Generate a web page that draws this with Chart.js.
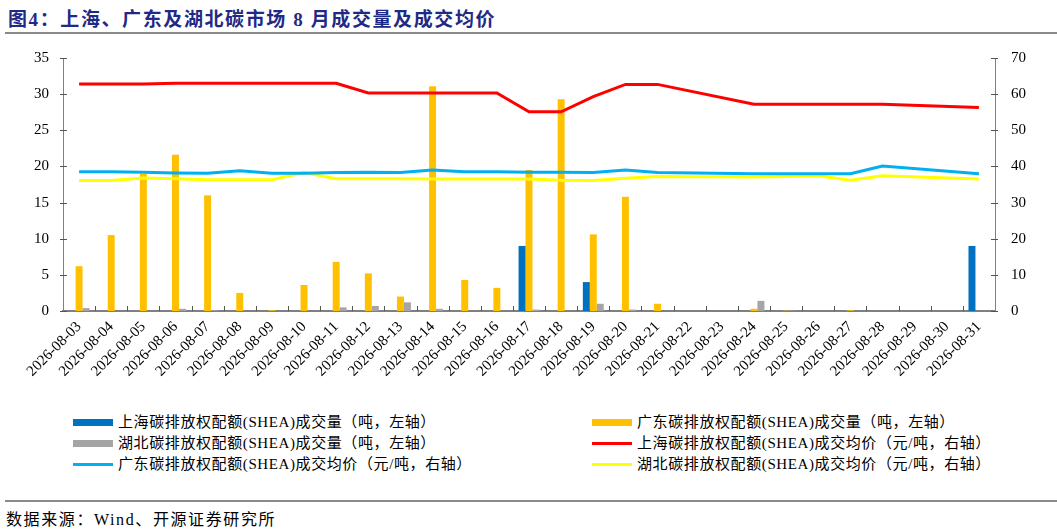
<!DOCTYPE html>
<html>
<head>
<meta charset="utf-8">
<script src="https://cdn.jsdelivr.net/npm/chart.js@4.4.1/dist/chart.umd.min.js"></script>
<style>
  html,body{margin:0;padding:0;background:#fff;}
  body{width:1057px;height:531px;overflow:hidden;position:relative;
       font-family:'Liberation Serif','Noto Sans CJK SC',serif;color:#000;}
  #title{position:absolute;left:8px;top:4px;font-size:19px;font-weight:bold;color:#1f2a86;letter-spacing:1.6px;white-space:nowrap;}
  .hr{position:absolute;left:5px;right:0;height:2px;background:#8a8a8a;}
  #wrap{position:absolute;left:0;top:40px;width:1057px;height:370px;}
  .lg{position:absolute;height:20px;line-height:20px;font-size:15px;white-space:nowrap;letter-spacing:0.6px;}
  .sw{position:absolute;}
  #src{position:absolute;left:6px;top:506px;font-size:16px;white-space:nowrap;letter-spacing:1.6px;}
</style>
</head>
<body>
<div id="title">图4：上海、广东及湖北碳市场 8 月成交量及成交均价</div>
<div class="hr" style="top:32px"></div>
<div id="wrap"><canvas id="c" width="1057" height="370"></canvas></div>
<div id="legend"></div>
<div class="hr" style="top:500px;height:1.5px"></div>
<div id="src">数据来源：Wind、开源证券研究所</div>
<script>
const dates = ['2026-08-03','2026-08-04','2026-08-05','2026-08-06','2026-08-07','2026-08-08','2026-08-09','2026-08-10','2026-08-11','2026-08-12','2026-08-13','2026-08-14','2026-08-15','2026-08-16','2026-08-17','2026-08-18','2026-08-19','2026-08-20','2026-08-21','2026-08-22','2026-08-23','2026-08-24','2026-08-25','2026-08-26','2026-08-27','2026-08-28','2026-08-29','2026-08-30','2026-08-31'];

// 成交量（吨，左轴）
const shVolume = [null,null,null,null,null,null,null,null,null,null,null,null,null,null,9.0,null,4.0,null,null,null,null,null,null,null,null,null,null,null,9.0];
const gdVolume = [6.2,10.5,19.0,21.6,16.0,2.5,0.1,3.6,6.8,5.2,2.0,31.1,4.3,3.2,19.5,29.3,10.6,15.8,1.0,null,null,0.3,0.05,null,0.1,null,null,null,null];
const hbVolume = [0.4,null,null,0.3,0.1,null,null,null,0.5,0.7,1.2,0.3,null,null,0.2,null,1.0,0.2,null,null,null,1.4,0.05,null,null,null,null,null,null];

// 成交均价（元/吨，右轴）
const shPrice = [62.8,62.8,62.8,63.0,63.0,63.0,63.0,63.0,63.0,60.3,60.3,60.3,60.3,60.3,55.1,55.1,59.3,62.7,62.7,null,null,57.2,57.2,57.2,57.2,57.2,null,null,56.3];
const gdPrice = [38.5,38.5,38.4,38.2,38.1,38.8,38.1,38.1,38.3,38.4,38.3,39.0,38.5,38.5,38.4,38.4,38.3,39.0,38.3,null,null,38.0,38.0,38.0,38.0,40.1,null,null,38.0];
const hbPrice = [36.1,36.1,36.8,36.6,36.3,36.3,36.3,38.3,36.6,36.6,36.6,36.5,36.5,36.5,36.5,36.2,36.1,36.7,37.2,null,null,37.1,37.2,37.4,36.2,37.4,null,null,36.5];

const leftTicks = [0,5,10,15,20,25,30,35];
const rightTicks = [0,10,20,30,40,50,60,70];

const FONT = "'Liberation Serif','Noto Sans CJK SC',serif";

function zeroPad(s){ s.paddingLeft = 0; s.paddingRight = 0; s.paddingTop = 0; s.paddingBottom = 0; }

const insideTicks = {
  id:'insideTicks',
  afterDraw(chart){
    const {ctx, chartArea:a, scales} = chart;
    ctx.save();
    ctx.strokeStyle = '#555';
    ctx.lineWidth = 1;
    const n = dates.length;
    const w = (a.right - a.left)/n;
    for(let i=1;i<n;i++){
      const x = Math.round(a.left + i*w)+0.5;
      ctx.beginPath(); ctx.moveTo(x,a.bottom); ctx.lineTo(x,a.bottom-5); ctx.stroke();
    }
    leftTicks.forEach(v=>{
      const y = Math.round(scales.y.getPixelForValue(v))+0.5;
      ctx.beginPath(); ctx.moveTo(a.left-3,y); ctx.lineTo(a.left+4,y); ctx.stroke();
    });
    rightTicks.forEach(v=>{
      const y = Math.round(scales.y1.getPixelForValue(v))+0.5;
      ctx.beginPath(); ctx.moveTo(a.right-4,y); ctx.lineTo(a.right+3,y); ctx.stroke();
    });
    ctx.restore();
  }
};

const data = {
  labels: dates,
  datasets: [
    {type:'bar', label:'上海碳排放权配额(SHEA)成交量（吨，左轴）', data:shVolume, backgroundColor:'#0070C0', yAxisID:'y', order:2},
    {type:'bar', label:'广东碳排放权配额(SHEA)成交量（吨，左轴）', data:gdVolume, backgroundColor:'#FFC000', yAxisID:'y', order:2},
    {type:'bar', label:'湖北碳排放权配额(SHEA)成交量（吨，左轴）', data:hbVolume, backgroundColor:'#A5A5A5', yAxisID:'y', order:2},
    {type:'line', label:'上海碳排放权配额(SHEA)成交均价（元/吨，右轴）', data:shPrice, borderColor:'#FF0000', backgroundColor:'#FF0000', yAxisID:'y1', order:0},
    {type:'line', label:'广东碳排放权配额(SHEA)成交均价（元/吨，右轴）', data:gdPrice, borderColor:'#00B0F0', backgroundColor:'#00B0F0', yAxisID:'y1', order:0},
    {type:'line', label:'湖北碳排放权配额(SHEA)成交均价（元/吨，右轴）', data:hbPrice, borderColor:'#FFFF00', backgroundColor:'#FFFF00', yAxisID:'y1', order:0}
  ]
};

const chart = new Chart(document.getElementById('c'), {
  data,
  plugins:[insideTicks],
  options:{
    responsive:false,
    animation:false,
    layout:{padding:{top:18,left:0,right:0,bottom:0}},
    plugins:{legend:{display:false}, tooltip:{enabled:false}},
    datasets:{
      bar:{categoryPercentage:0.65, barPercentage:1.0, borderWidth:0},
      line:{borderWidth:3, pointRadius:0, tension:0, spanGaps:true, fill:false}
    },
    scales:{
      x:{
        offset:true,
        grid:{display:false, drawTicks:false, offset:true},
        border:{display:true, color:'#808080', width:2},
        ticks:{autoSkip:false, minRotation:45, maxRotation:45, padding:7, color:'#000', font:{family:FONT, size:15}},
        afterFit(s){ s.height = 99; zeroPad(s); }
      },
      y:{
        position:'left', min:0, max:35,
        afterBuildTicks(s){ s.ticks = leftTicks.map(v=>({value:v})); },
        grid:{display:false, drawTicks:false},
        border:{display:true, color:'#808080', width:1},
        ticks:{padding:14, color:'#000', font:{family:FONT, size:15}},
        afterFit(s){ s.width = 63; zeroPad(s); }
      },
      y1:{
        position:'right', min:0, max:70,
        afterBuildTicks(s){ s.ticks = rightTicks.map(v=>({value:v})); },
        grid:{display:false, drawTicks:false},
        border:{display:true, color:'#808080', width:1},
        ticks:{padding:16, color:'#000', font:{family:FONT, size:15}},
        afterFit(s){ s.width = 62; zeroPad(s); }
      }
    }
  }
});

// HTML legend, row-major in two columns
const lg = document.getElementById('legend');
const colX = [73, 592];
const rowY = [422, 443, 464];
chart.data.datasets.forEach((ds,i)=>{
  const col = i % 2, row = Math.floor(i/2);
  const sw = document.createElement('div');
  sw.className = 'sw';
  const isBar = ds.type === 'bar';
  const h = isBar ? 7 : 3;
  sw.style.left = colX[col] + 'px';
  sw.style.top = (rowY[row] - h/2) + 'px';
  sw.style.width = '40px';
  sw.style.height = h + 'px';
  sw.style.background = isBar ? ds.backgroundColor : ds.borderColor;
  lg.appendChild(sw);
  const t = document.createElement('div');
  t.className = 'lg';
  t.style.left = (colX[col] + 45) + 'px';
  t.style.top = (rowY[row] - 10) + 'px';
  t.textContent = ds.label;
  lg.appendChild(t);
});
</script>
</body>
</html>
